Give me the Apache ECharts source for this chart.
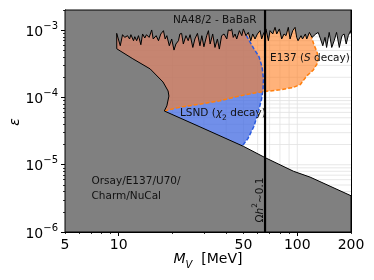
<!DOCTYPE html>
<html><head><meta charset="utf-8">
<script src="https://cdn.jsdelivr.net/npm/echarts@6/dist/echarts.min.js"></script>
<style>html,body{margin:0;padding:0;background:#fff}#c{width:374px;height:280px}</style>
</head><body><div id="c"></div>
<script>
// ---- axis ranges & ticks ----
const xMin = 5, xMax = 200, yMin = 1e-6, yMax = 2e-3;
const xTickLabels = [5, 10, 50, 100, 200];
const xMajorTicks = [10, 100];
const xMinorTicks = [5, 6, 7, 8, 9, 20, 30, 40, 50, 60, 70, 80, 90, 200];
const xGridLines = [6, 7, 8, 9, 10, 20, 30, 40, 50, 60, 70, 80, 90, 100];
const yMajorTicks = [1e-6, 1e-5, 1e-4, 1e-3];
const yMinorTicks = [2e-6,3e-6,4e-6,5e-6,6e-6,7e-6,8e-6,9e-6,2e-5,3e-5,4e-5,5e-5,6e-5,7e-5,8e-5,9e-5,2e-4,3e-4,4e-4,5e-4,6e-4,7e-4,8e-4,9e-4,2e-3];
const yGridLines = [2e-6,3e-6,4e-6,5e-6,6e-6,7e-6,8e-6,9e-6,1e-5,2e-5,3e-5,4e-5,5e-5,6e-5,7e-5,8e-5,9e-5,1e-4,2e-4,3e-4,4e-4,5e-4,6e-4,7e-4,8e-4,9e-4,1e-3];

// ---- NA48/2 - BaBaR upper bound (M_V [MeV], epsilon) ----
const na48 = [[9.74,8.99e-4],[10.2,5.88e-4],[10.5,8.59e-4],[10.8,7.83e-4],[11.2,8.30e-4],[11.5,7.41e-4],[11.7,8.59e-4],[12.1,6.99e-4],[12.3,8.02e-4],[12.6,6.99e-4],[12.9,8.30e-4],[13.3,6.09e-4],[13.6,8.80e-4],[14.0,7.67e-4],[14.3,8.59e-4],[14.8,7.83e-4],[15.3,1.01e-3],[15.6,7.41e-4],[16.2,8.30e-4],[16.7,6.99e-4],[17.2,8.80e-4],[17.8,9.86e-4],[18.2,7.41e-4],[18.6,8.30e-4],[19.2,5.88e-4],[19.8,7.41e-4],[20.4,5.07e-4],[20.9,6.24e-4],[21.6,6.99e-4],[22.0,8.80e-4],[22.5,8.99e-4],[23.0,6.24e-4],[23.8,8.30e-4],[24.5,6.99e-4],[25.1,8.59e-4],[26.0,5.55e-4],[26.7,7.41e-4],[27.6,8.99e-4],[28.5,5.88e-4],[29.2,8.30e-4],[30.0,5.68e-4],[31.1,8.30e-4],[31.8,9.86e-4],[32.5,6.24e-4],[33.6,8.80e-4],[34.6,5.55e-4],[35.7,7.41e-4],[36.6,5.25e-4],[37.7,8.30e-4],[38.9,8.80e-4],[40.3,7.41e-4],[41.1,1.01e-3],[42.4,9.86e-4],[42.9,1.046e-3],[43.8,7.83e-4],[44.8,8.80e-4],[45.8,7.41e-4],[47.4,9.86e-4],[48.9,8.30e-4],[49.9,1.046e-3],[51.6,8.30e-4],[53.2,9.30e-4],[54.9,6.99e-4],[56.3,8.80e-4],[58.0,7.41e-4],[59.8,8.80e-4],[61.9,9.86e-4],[63.2,7.41e-4],[64.6,8.80e-4],[66.8,1.046e-3],[68.9,6.99e-4],[70.4,9.86e-4],[72.9,8.80e-4],[75.1,1.105e-3],[76.7,8.80e-4],[79.4,1.046e-3],[81.8,7.41e-4],[84.3,8.80e-4],[86.5,8.30e-4],[89.1,1.105e-3],[91.1,7.41e-4],[94.3,9.86e-4],[97.2,1.105e-3],[99.3,7.83e-4],[101,6.99e-4],[105,8.30e-4],[107,7.41e-4],[111,8.80e-4],[113,7.41e-4],[117,9.30e-4],[121,7.83e-4],[124,8.30e-4],[127,8.80e-4],[131,9.30e-4],[135,7.41e-4],[139,5.88e-4],[143,7.83e-4],[146,5.55e-4],[151,9.30e-4],[156,5.55e-4],[161,6.99e-4],[166,9.30e-4],[172,5.55e-4],[178,8.30e-4],[183,8.80e-4],[188,6.24e-4],[193,8.30e-4],[199,9.86e-4],[200,9.0e-4]];

// ---- beam dump bound: left curve (top -> bottom) and lower line (left -> right) ----
const leftCurve = [[9.75,5.3e-4],[12.0,3.76e-4],[15.0,2.66e-4],[17.7,1.70e-4],[18.9,1.25e-4],[19.1,1.05e-4],[18.6,7.5e-5]];
const lowerLine = [[18.0,6.3e-5],[28.5,3.66e-5],[50.1,1.87e-5],[65.9,1.28e-5],[95.3,8.0e-6],[118,6.55e-6],[200,3.46e-6]];

// ---- LSND (chi2 decay) right boundary, top -> bottom ----
const lsnd = [[51.8,8.4e-4],[57.2,5.3e-4],[61.1,4.03e-4],[63.5,2.85e-4],[64.7,1.89e-4],[64.3,1.34e-4],[63.1,9.46e-5],[60.7,6.26e-5],[57.2,3.73e-5],[53.0,2.47e-5],[49.0,1.87e-5]];
// ---- E137 (S decay) lower boundary, left -> right -> up ----
const e137 = [[18.0,6.3e-5],[22.0,7.18e-5],[28.5,7.96e-5],[36.9,8.92e-5],[47.8,1.06e-4],[56.5,1.16e-4],[64.3,1.22e-4],[80.1,1.30e-4],[94.7,1.41e-4],[104,1.56e-4],[113,2.09e-4],[123,2.57e-4],[129,3.16e-4],[131,3.76e-4],[129,4.78e-4],[124,6.09e-4],[120,8.0e-4]];
// ---- relic abundance line ----
const omegaMass = 66;

const lg = Math.log10;
const L = p => [lg(p[0]), lg(p[1])];
const FONT = '"DejaVu Sans"';

function polySeries(points, style) {
  return { type: 'custom', coordinateSystem: 'cartesian2d', silent: true, clip: false,
    data: [[lg(xMin), lg(yMin)]],
    renderItem: (params, api) => ({ type: 'polygon', shape: { points: points.map(p => api.coord(L(p))) }, style }) };
}
function lineSeries(points, style) {
  return { type: 'custom', coordinateSystem: 'cartesian2d', silent: true, clip: false,
    data: [[lg(xMin), lg(yMin)]],
    renderItem: (params, api) => ({ type: 'polyline', shape: { points: points.map(p => api.coord(L(p))) }, style }) };
}
function gridSeries() {
  return { type: 'custom', coordinateSystem: 'cartesian2d', silent: true, clip: false,
    data: [[lg(xMin), lg(yMin)]],
    renderItem: (params, api) => {
      const children = [];
      xGridLines.forEach(v => {
        const a = api.coord([lg(v), lg(yMin)]), b = api.coord([lg(v), lg(yMax)]);
        children.push({ type: 'line', shape: { x1: a[0], y1: a[1], x2: b[0], y2: b[1] }, style: { stroke: '#e2e2e2', lineWidth: 0.8 } });
      });
      yGridLines.forEach(v => {
        const a = api.coord([lg(xMin), lg(v)]), b = api.coord([lg(xMax), lg(v)]);
        children.push({ type: 'line', shape: { x1: a[0], y1: a[1], x2: b[0], y2: b[1] }, style: { stroke: '#e2e2e2', lineWidth: 0.8 } });
      });
      return { type: 'group', children };
    } };
}

const lsndPoly = lsnd.concat([[lsnd[lsnd.length-1][0], yMin], [xMin, yMin], [xMin, yMax], [lsnd[0][0], yMax]]);
const e137Poly = e137.concat([[e137[e137.length-1][0], yMax], [xMin, yMax], [xMin, e137[0][1]]]);
const grayPoly = [[xMax, yMax], [xMin, yMax], [xMin, yMin], [xMax, yMin]]
  .concat(lowerLine.slice().reverse(), leftCurve.slice().reverse(), na48);
const omegaLine = [[omegaMass, yMin], [omegaMass, yMax]];

const common = { min: null, max: null };
function xAx(extra) { return Object.assign({ type: 'value', min: lg(xMin), max: lg(xMax), splitLine: { show: false }, axisLine: { show: false }, axisTick: { show: false }, axisLabel: { show: false } }, extra); }
function yAx(extra) { return Object.assign({ type: 'value', min: lg(yMin), max: lg(yMax), splitLine: { show: false }, axisLine: { show: false }, axisTick: { show: false }, axisLabel: { show: false } }, extra); }

const chart = echarts.init(document.getElementById('c'), null, { renderer: 'canvas' });
chart.setOption({
  animation: false,
  backgroundColor: '#fff',
  grid: { left: 65, right: 23, top: 10, bottom: 48 },
  xAxis: [
    xAx({ position: 'bottom', axisLine: { show: true, onZero: false, lineStyle: { color: '#000', width: 1 } },
      axisTick: { show: true, customValues: xMajorTicks.map(lg), length: 4, lineStyle: { color: '#000', width: 1 } },
      axisLabel: { show: true, customValues: xTickLabels.map(lg), formatter: v => String(Math.round(Math.pow(10, v))), fontSize: 14, fontFamily: FONT, color: '#000', margin: 6 } }),
    xAx({ position: 'bottom', axisTick: { show: true, customValues: xMinorTicks.map(lg), length: 2, lineStyle: { color: '#000', width: 0.8 } } }),
    xAx({ position: 'top', axisLine: { show: true, onZero: false, lineStyle: { color: '#000', width: 1 } } })
  ],
  yAxis: [
    yAx({ position: 'left', axisLine: { show: true, onZero: false, lineStyle: { color: '#000', width: 1 } },
      axisTick: { show: true, customValues: yMajorTicks.map(lg), length: 4, lineStyle: { color: '#000', width: 1 } },
      axisLabel: { show: true, customValues: yMajorTicks.map(lg), margin: 7,
        formatter: v => '{b|10}{s|\u2212' + Math.abs(Math.round(v)) + '}',
        rich: { b: { fontSize: 14, fontFamily: FONT, color: '#000', lineHeight: 18, verticalAlign: 'bottom' },
                s: { fontSize: 10, fontFamily: FONT, color: '#000', lineHeight: 10, verticalAlign: 'top' } } } }),
    yAx({ position: 'left', axisTick: { show: true, customValues: yMinorTicks.map(lg), length: 2, lineStyle: { color: '#000', width: 0.8 } } }),
    yAx({ position: 'right', axisLine: { show: true, onZero: false, lineStyle: { color: '#000', width: 1 } } })
  ],
  series: [
    gridSeries(),
    polySeries(lsndPoly, { fill: 'rgba(65,105,225,0.75)' }),
    polySeries(e137Poly, { fill: 'rgba(255,127,33,0.6)' }),
    lineSeries(lsnd, { stroke: '#2a5be0', lineWidth: 1.5, lineDash: [4, 2], fill: null }),
    lineSeries(e137, { stroke: '#ff7f0e', lineWidth: 1.5, lineDash: [4, 2], fill: null }),
    polySeries(grayPoly, { fill: '#808080', stroke: '#000', lineWidth: 1 }),
    lineSeries(omegaLine, { stroke: '#000', lineWidth: 2.2, fill: null })
  ],
  graphic: [
    { type: 'text', x: 173, y: 20, z: 100, style: { text: 'NA48/2 - BaBaR', font: '10.5px ' + FONT, fill: '#111', align: 'left', verticalAlign: 'middle' } },
    { type: 'text', x: 270, y: 58, z: 100, style: { text: '{n|E137 (}{i|S}{n| decay)}', align: 'left', verticalAlign: 'middle',
      rich: { n: { font: '10.5px ' + FONT, fill: '#111' }, i: { font: 'italic 10.5px ' + FONT, fill: '#111' } } } },
    { type: 'text', x: 180, y: 115, z: 100, style: { text: '{n|LSND (}{i|\u03c7}{sub|2}{n| decay)}', align: 'left', verticalAlign: 'middle',
      rich: { n: { font: '10.5px ' + FONT, fill: '#111', lineHeight: 14, verticalAlign: 'top' },
              i: { font: 'italic 10.5px ' + FONT, fill: '#111', lineHeight: 14, verticalAlign: 'top' },
              sub: { font: '7.5px ' + FONT, fill: '#111', lineHeight: 8, verticalAlign: 'bottom' } } } },
    { type: 'text', x: 91.5, y: 189, z: 100, style: { text: 'Orsay/E137/U70/\nCharm/NuCal', font: '10.5px ' + FONT, fill: '#111', align: 'left', verticalAlign: 'middle', lineHeight: 15 } },
    { type: 'text', x: 258.5, y: 200, z: 100, rotation: Math.PI / 2, style: { text: '{n|\u03a9}{i|h}{sup|2}{n|\u223c0.1}', align: 'center', verticalAlign: 'middle',
      rich: { n: { font: '10.5px ' + FONT, fill: '#111', lineHeight: 14, verticalAlign: 'bottom' },
              i: { font: 'italic 10.5px ' + FONT, fill: '#111', lineHeight: 14, verticalAlign: 'bottom' },
              sup: { font: '7.5px ' + FONT, fill: '#111', lineHeight: 8, verticalAlign: 'top' } } } },
    { type: 'text', x: 208, y: 261, z: 100, style: { text: '{i|M}{sub|V}{n|  [MeV]}', align: 'center', verticalAlign: 'middle',
      rich: { n: { font: '14px ' + FONT, fill: '#000', lineHeight: 18, verticalAlign: 'top' },
              i: { font: 'italic 14px ' + FONT, fill: '#000', lineHeight: 18, verticalAlign: 'top' },
              sub: { font: 'italic 10px ' + FONT, fill: '#000', lineHeight: 10, verticalAlign: 'bottom' } } } },
    { type: 'text', x: 15, y: 122, z: 100, rotation: Math.PI / 2, style: { text: '\u03b5', font: 'italic 14px ' + FONT, fill: '#000', align: 'center', verticalAlign: 'middle' } }
  ]
});
</script></body></html>
